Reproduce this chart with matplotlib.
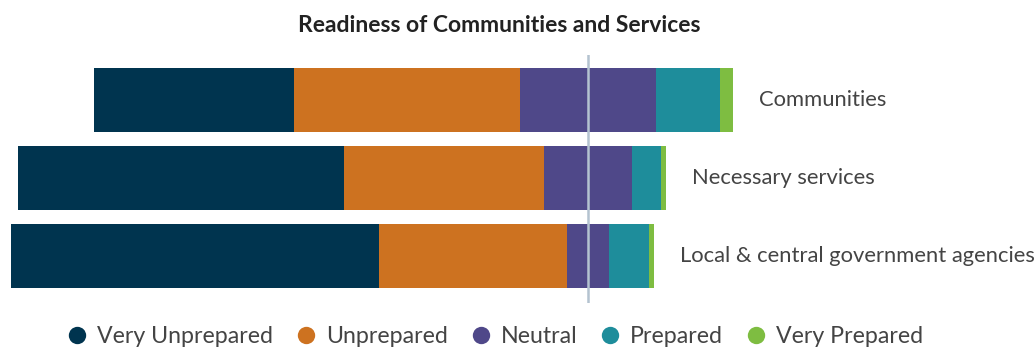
import matplotlib
matplotlib.use("Agg")
import matplotlib.pyplot as plt
from matplotlib.lines import Line2D
import numpy as np

plt.rcParams['font.family'] = ['Lato', 'DejaVu Sans']

# Survey responses (% of respondents)
groups = ["Communities", "Necessary services", "Local & central government agencies"]
levels = ["Very Unprepared", "Unprepared", "Neutral", "Prepared", "Very Prepared"]
very_unprepared = [31.0, 50.5, 57.1]
unprepared = [35.0, 31.0, 29.1]
neutral = [21.1, 13.6, 6.5]
prepared = [9.9, 4.5, 6.2]
very_prepared = [2.0, 0.9, 0.9]

colors = ["#00344F", "#CD7220", "#4F4889", "#1E8D9B", "#7EBD41"]

series = np.array([very_unprepared, unprepared, neutral, prepared, very_prepared])

fig = plt.figure(figsize=(10.34, 3.49), dpi=100)
ax = fig.add_axes([0, 0.1318, 1, 0.7106])

y = np.arange(len(groups))
# Diverging layout: neutral block is centred on zero
starts = -(series[0] + series[1] + series[2] / 2)
left = starts.copy()
for vals, col in zip(series, colors):
    ax.barh(y, vals, left=left, height=0.82, color=col, edgecolor="none", zorder=2)
    left = left + vals

ax.axvline(0, color="#B4C3D0", lw=1.8, zorder=3)

for yi, name, end in zip(y, groups, left):
    ax.annotate(name, xy=(end, yi), xytext=(26, 0), textcoords="offset pixels",
                va="center", ha="left", fontsize=15.8, color="#444444")

ax.set_xlim(-91.12, 69.19)
ax.set_ylim(2.603, -0.577)
ax.axis("off")

fig.text(0.4826, 0.928, "Readiness of Communities and Services", ha="center", va="center",
         fontsize=16.5, fontweight="bold", color="#222222")

handles = [Line2D([], [], marker="o", linestyle="none", markersize=12.5,
                  markerfacecolor=c, markeredgecolor="none") for c in colors]
fig.legend(handles, levels, loc="center", bbox_to_anchor=(0.478, 0.036), ncol=5,
           frameon=False, fontsize=16.7, labelcolor="#444444", handlelength=1.0,
           handletextpad=0.36, columnspacing=0.92, borderaxespad=0, borderpad=0)

fig.savefig("out.png", dpi=100)
